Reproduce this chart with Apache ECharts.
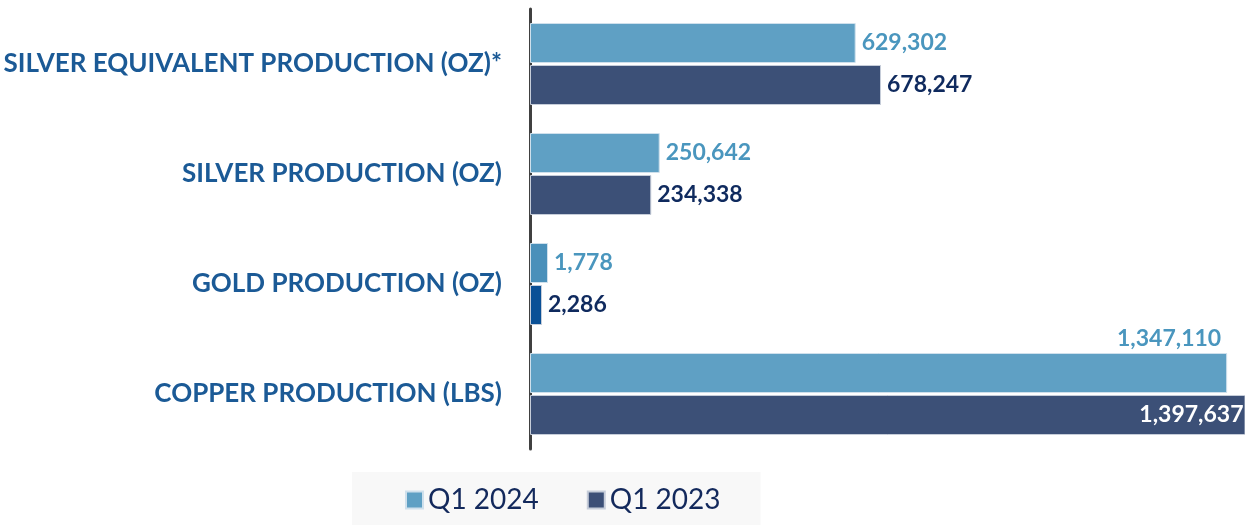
<!DOCTYPE html>
<html>
<head>
<meta charset="utf-8">
<script src="https://cdn.jsdelivr.net/npm/echarts@6/dist/echarts.min.js"></script>
<style>html,body{margin:0;padding:0;background:#fff}#c{width:1245px;height:525px}</style>
</head>
<body>
<div id="c"></div>
<script>
const categories = ['SILVER EQUIVALENT PRODUCTION (OZ)*', 'SILVER PRODUCTION (OZ)', 'GOLD PRODUCTION (OZ)', 'COPPER PRODUCTION (LBS)'];
const seriesNames = ['Q1 2024', 'Q1 2023'];
const q1_2024 = [629302, 250642, 1778, 1347110];
const q1_2023 = [678247, 234338, 2286, 1397637];

const FONT = 'Lato, "Open Sans", sans-serif';
const fmt = v => v.toLocaleString('en-US');
const GOLD = 2, COPPER = 3;

function build(values, isNew) {
  return values.map((v, i) => {
    const item = { value: v };
    if (i === GOLD) item.itemStyle = { color: isNew ? '#4a90ba' : '#0a5096' };
    if (i === COPPER) {
      item.label = isNew
        ? { position: ['100%', 0], align: 'right', verticalAlign: 'bottom', offset: [-6, -3] }
        : { position: 'insideRight', color: '#ffffff', distance: 2 };
    }
    return item;
  });
}

const chart = echarts.init(document.getElementById('c'));
chart.setOption({
  animation: false,
  grid: { left: 530, right: 0, top: 9, bottom: 76, containLabel: false },
  xAxis: { type: 'value', min: 0, max: 1381600, show: false },
  yAxis: {
    type: 'category', data: categories, inverse: true,
    axisLine: { show: true, lineStyle: { color: '#404040', width: 3 } },
    axisTick: { show: false },
    axisLabel: { margin: 28, color: '#1b5a96', fontFamily: FONT, fontWeight: 'bold', fontSize: 26 }
  },
  legend: {
    data: seriesNames, left: 352, top: 472,
    backgroundColor: '#f8f8f8', padding: [14, 40, 22, 53],
    itemWidth: 17, itemHeight: 17, itemGap: 48, icon: 'rect',
    textStyle: { fontFamily: FONT, fontSize: 28, color: '#13295c' }
  },
  series: [
    {
      name: seriesNames[0], type: 'bar', data: build(q1_2024, true),
      barWidth: 40, barGap: '5%', barMinHeight: 18,
      itemStyle: { color: '#5fa0c4', borderColor: '#cfe0ec', borderWidth: 1 },
      label: { show: true, position: 'right', distance: 6, formatter: p => fmt(p.value),
        color: '#4a96be', fontFamily: FONT, fontWeight: 'bold', fontSize: 23 }
    },
    {
      name: seriesNames[1], type: 'bar', data: build(q1_2023, false),
      barWidth: 40, barMinHeight: 12,
      itemStyle: { color: '#3c5077', borderColor: '#c6cdd9', borderWidth: 1 },
      label: { show: true, position: 'right', distance: 6, formatter: p => fmt(p.value),
        color: '#0f2a5e', fontFamily: FONT, fontWeight: 'bold', fontSize: 23 }
    }
  ]
});
</script>
</body>
</html>
